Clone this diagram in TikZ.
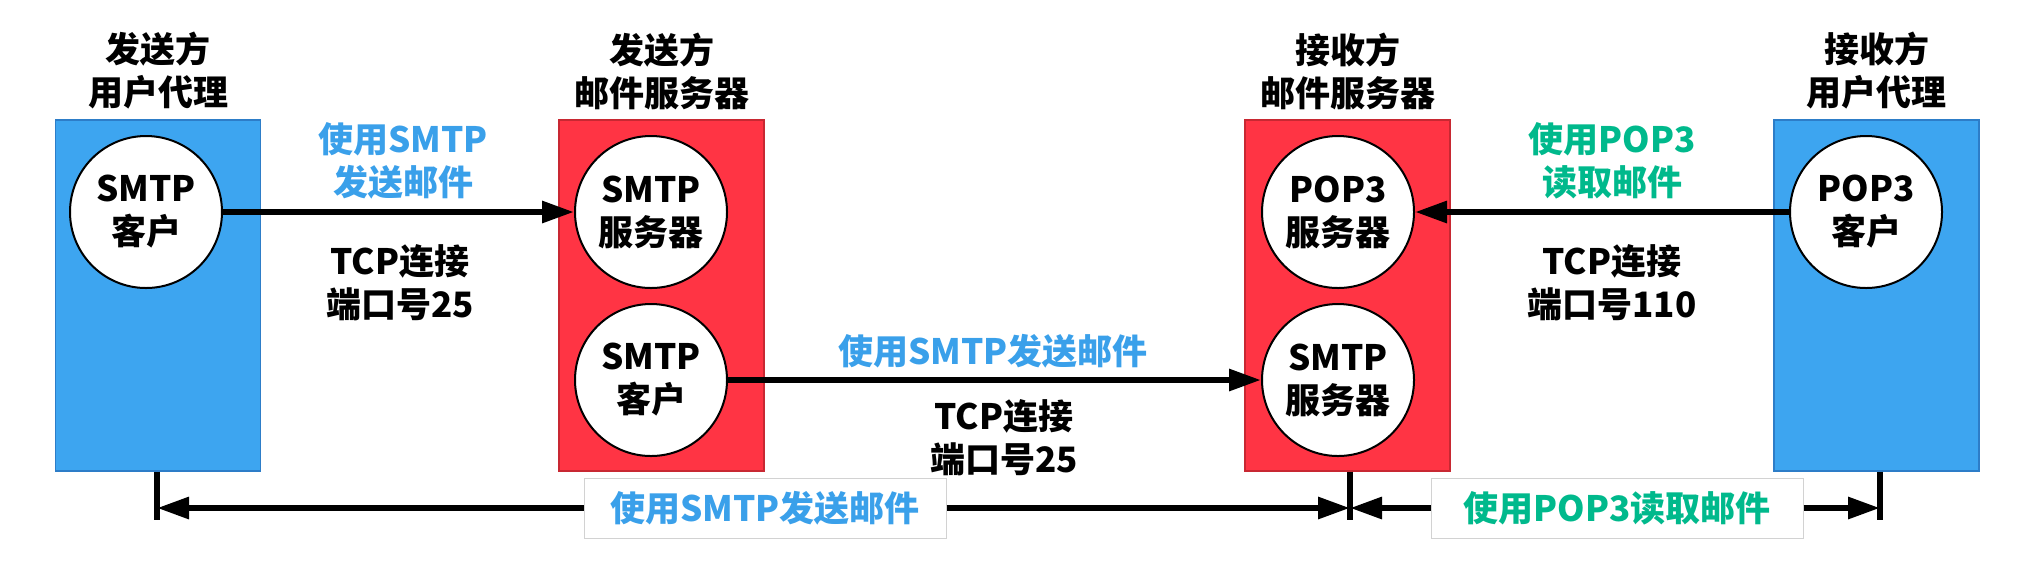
\documentclass[tikz,border=0pt]{standalone}
\usepackage{fontspec}
\setmainfont{Noto Sans CJK SC}
\usetikzlibrary{arrows.meta}
\definecolor{uablue}{RGB}{61,165,240}
\definecolor{uaedge}{RGB}{45,125,200}
\definecolor{msred}{RGB}{255,52,68}
\definecolor{msedge}{RGB}{200,40,50}
\definecolor{smtptext}{RGB}{58,160,234}
\definecolor{poptext}{RGB}{0,185,140}
\tikzset{
  agent/.style={draw=uaedge, fill=uablue, line width=0.6pt, minimum width=102.5pt, minimum height=175.5pt},
  mailsrv/.style={draw=msedge, fill=msred, line width=0.6pt, minimum width=102.5pt, minimum height=175.5pt},
  proc/.style={circle, draw, fill=white, line width=1pt, minimum size=76pt, inner sep=0pt, align=center},
  tag/.style={draw=gray!35, fill=white, line width=0.5pt, minimum height=30pt},
  link/.style={line width=3pt, -{Triangle[length=16pt,width=10.5pt]}}
}
\begin{document}
\begin{tikzpicture}[x=0.5pt, y=-0.5pt, font=\fontsize{17.5pt}{21.5pt}\selectfont\bfseries]
\useasboundingbox (0,0) rectangle (2038,564);
% boxes
\node[agent] (uaS) at (158,295.5) {};
\node[mailsrv] (msS) at (661.5,295.5) {};
\node[mailsrv] (msR) at (1347.5,295.5) {};
\node[agent] (uaR) at (1876.5,295.5) {};
\node[align=center] (tS1) at (158,71) {发送方\\用户代理};
\node[align=center] (tS2) at (661.5,71) {发送方\\邮件服务器};
\node[align=center] (tR2) at (1347.5,71) {接收方\\邮件服务器};
\node[align=center] (tR1) at (1876.5,71) {接收方\\用户代理};
% processes
\node[proc] (smtpC1) at (146,212) {SMTP\\客户};
\node[proc] (smtpS1) at (651,212) {SMTP\\服务器};
\node[proc] (smtpC2) at (651,380) {SMTP\\客户};
\node[proc] (pop3S) at (1338,212) {POP3\\服务器};
\node[proc] (smtpS2) at (1338,380) {SMTP\\服务器};
\node[proc] (pop3C) at (1866,212) {POP3\\客户};
\draw[link] (smtpC1.east) -- (smtpS1.west);
\draw[link] (smtpC2.east) -- (smtpS2.west);
\draw[link] (pop3C.west) -- (pop3S.east);
\node[align=center, text=smtptext] (m1) at (403,161) {使用SMTP\\发送邮件};
\node[align=center] (p1) at (400,283) {TCP连接\\端口号25};
\node[text=smtptext] (m2) at (993,351) {使用SMTP发送邮件};
\node[align=center] (p2) at (1004,438) {TCP连接\\端口号25};
\node[align=center, text=poptext] (m3) at (1612,161) {使用POP3\\读取邮件};
\node[align=center] (p3) at (1612,283) {TCP连接\\端口号110};
% bottom
\coordinate (eS) at (157,520);
\coordinate (eM) at (1350,520);
\coordinate (eR) at (1880,520);
\draw[line width=3pt] (uaS.south -| eS) -- (eS);
\draw[line width=3pt] (msR.south -| eM) -- (eM);
\draw[line width=3pt] (uaR.south -| eR) -- (eR);
\node[tag, minimum width=181pt, text=smtptext] (allS) at (765,508) {使用SMTP发送邮件};
\node[tag, minimum width=186pt, text=poptext] (allP) at (1617,508) {使用POP3读取邮件};
\draw[link] (allS.west) -- (allS.west -| eS);
\draw[link] (allS.east) -- (allS.east -| eM);
\draw[link] (allP.west) -- (allP.west -| eM);
\draw[link] (allP.east) -- (allP.east -| eR);
\end{tikzpicture}
\end{document}
